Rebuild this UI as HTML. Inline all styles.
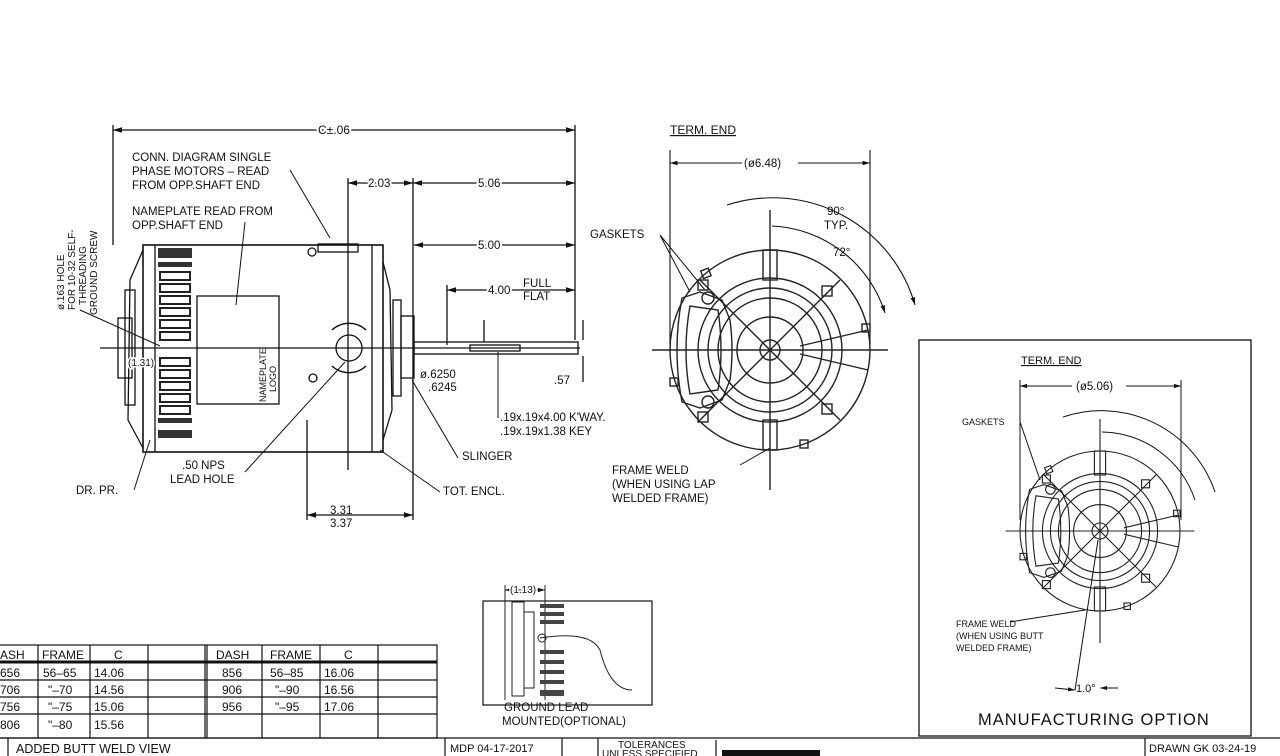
<!DOCTYPE html>
<html><head><meta charset="utf-8"><style>
html,body{margin:0;padding:0;background:#fff}
svg{display:block}
text{font-family:"Liberation Sans",sans-serif;fill:#111}
</style></head><body>
<svg width="1280" height="756" viewBox="0 0 1280 756" xmlns="http://www.w3.org/2000/svg">
<defs>
<marker id="a" viewBox="0 0 10 10" refX="10" refY="5" markerWidth="7" markerHeight="7" orient="auto-start-reverse"><path d="M0,2 L10,5 L0,8z" fill="#111"/></marker>
<g id="ev" fill="none" stroke="#222" stroke-width="1.4">
<circle r="100"/>
<circle r="72"/><circle r="62"/><circle r="52"/><circle r="33"/><circle r="10"/>
<line x1="-118" y1="0" x2="118" y2="0"/><line x1="0" y1="-140" x2="0" y2="140"/>
<line x1="-70" y1="-70" x2="70" y2="70"/><line x1="-70" y1="70" x2="70" y2="-70"/>
<line x1="30" y1="-4" x2="98" y2="-20"/><line x1="30" y1="4" x2="98" y2="20"/>
<rect x="-7" y="-100" width="14" height="30"/><rect x="-7" y="70" width="14" height="30"/>
<path d="M-88,-52 Q-98,0 -88,52 L-70,58 L-48,50 L-40,30 Q-36,0 -40,-30 L-48,-50 L-70,-58 Z"/>
<path d="M-80,-44 Q-88,0 -80,44 L-52,40 Q-46,0 -52,-40 Z"/>
<circle cx="-62" cy="-52" r="6"/><circle cx="-62" cy="52" r="6"/>
<rect x="-38" y="-98" width="8" height="8" transform="rotate(-20)"/>
<rect x="92" y="-26" width="8" height="8"/>
<rect x="-100" y="28" width="8" height="8"/>
<rect x="30" y="90" width="8" height="8"/>
<rect x="52" y="-64" width="10" height="10"/><rect x="52" y="54" width="10" height="10"/>
<rect x="-72" y="-70" width="10" height="10"/><rect x="-72" y="62" width="10" height="10"/>
</g>
</defs>
<g stroke="#111" stroke-width="1.3" fill="none">
<line x1="113" y1="125" x2="113" y2="245"/><line x1="575" y1="125" x2="575" y2="340"/>
<line x1="113" y1="130" x2="575" y2="130" marker-start="url(#a)" marker-end="url(#a)"/>
<line x1="348" y1="178" x2="348" y2="470"/><line x1="413" y1="178" x2="413" y2="520"/>
<line x1="348" y1="183" x2="413" y2="183" marker-start="url(#a)" marker-end="url(#a)"/>
<line x1="413" y1="183" x2="575" y2="183" marker-start="url(#a)" marker-end="url(#a)"/>
<line x1="414" y1="245" x2="575" y2="245" marker-start="url(#a)" marker-end="url(#a)"/>
<line x1="447" y1="285" x2="447" y2="345"/>
<line x1="447" y1="290" x2="575" y2="290" marker-start="url(#a)" marker-end="url(#a)"/>
<line x1="307" y1="420" x2="307" y2="520"/>
<line x1="307" y1="515" x2="413" y2="515" marker-start="url(#a)" marker-end="url(#a)"/>
<rect x="143" y="245" width="240" height="207" stroke-width="1.6"/>
<line x1="155" y1="245" x2="155" y2="452"/><line x1="372" y1="245" x2="372" y2="452"/>
<path d="M143,250 L130,280 L128,420 L143,448"/>
<rect x="118" y="318" width="14" height="60"/><rect x="125" y="290" width="10" height="115"/>
<path d="M383,262 L390,290 L392,410 L383,440"/>
<rect x="393" y="300" width="8" height="96"/><rect x="401" y="316" width="13" height="62"/>
<rect x="414" y="342" width="164" height="12"/>
<rect x="470" y="345" width="50" height="6"/>
<rect x="197" y="296" width="82" height="108"/>
<circle cx="349" cy="348" r="13"/>
<path d="M332,330 A25,25 0 0 1 366,330 M332,366 A25,25 0 0 0 366,366"/>
<line x1="100" y1="348" x2="580" y2="348"/>
<rect x="318" y="244" width="40" height="8"/>
<circle cx="312" cy="252" r="4"/><circle cx="313" cy="378" r="4"/>
<line x1="583" y1="320" x2="583" y2="340"/><line x1="583" y1="356" x2="583" y2="382"/>
<line x1="484" y1="320" x2="484" y2="342"/>
</g>
<g fill="#333">
<rect x="158" y="248" width="34" height="10"/><rect x="158" y="262" width="34" height="5"/>
<rect x="158" y="430" width="34" height="8"/><rect x="158" y="418" width="34" height="5"/>
</g>
<g stroke="#222" fill="none" stroke-width="2">
<rect x="160" y="272" width="30" height="8"/><rect x="160" y="284" width="30" height="8"/><rect x="160" y="296" width="30" height="8"/><rect x="160" y="308" width="30" height="8"/><rect x="160" y="320" width="30" height="8"/><rect x="160" y="332" width="30" height="8"/><rect x="160" y="358" width="30" height="8"/><rect x="160" y="370" width="30" height="8"/><rect x="160" y="382" width="30" height="8"/><rect x="160" y="394" width="30" height="8"/><rect x="160" y="406" width="30" height="8"/>
</g>
<g stroke="#111" stroke-width="1" fill="none">
<path d="M290,170 L330,238"/><path d="M245,222 L236,305"/><path d="M80,310 L160,346"/><path d="M134,490 L150,440"/>
<path d="M245,472 L345,362"/><path d="M380,450 L440,492"/><path d="M412,380 L458,458"/><path d="M498,418 L498,352"/>
<path d="M660,235 L690,292 M660,235 L705,290"/><path d="M740,465 L770,448"/>
</g>
<g font-size="11.5">
<text x="318" y="134" font-size="12" style="paint-order:stroke" stroke="#fff" stroke-width="4">C±.06</text>
<text x="132" y="161">CONN. DIAGRAM SINGLE</text><text x="132" y="175">PHASE MOTORS – READ</text><text x="132" y="189">FROM OPP.SHAFT END</text>
<text x="132" y="215">NAMEPLATE READ FROM</text><text x="132" y="229">OPP.SHAFT END</text>
<text x="368" y="187" style="paint-order:stroke" stroke="#fff" stroke-width="4">2.03</text>
<text x="478" y="187" style="paint-order:stroke" stroke="#fff" stroke-width="4">5.06</text>
<text x="478" y="249" style="paint-order:stroke" stroke="#fff" stroke-width="4">5.00</text>
<text x="488" y="294" style="paint-order:stroke" stroke="#fff" stroke-width="4">4.00</text>
<text x="523" y="287">FULL</text><text x="523" y="300">FLAT</text>
<text x="420" y="378">ø.6250</text><text x="428" y="391">.6245</text>
<text x="554" y="384">.57</text>
<text x="500" y="421">.19x.19x4.00 K'WAY.</text><text x="500" y="435">.19x.19x1.38 KEY</text>
<text x="462" y="460">SLINGER</text><text x="443" y="495">TOT. ENCL.</text>
<text x="182" y="469">.50 NPS</text><text x="170" y="483">LEAD HOLE</text>
<text x="76" y="494">DR. PR.</text>
<text x="330" y="514">3.31</text><text x="330" y="527">3.37</text>
<text x="128" y="366" font-size="10" style="paint-order:stroke" stroke="#fff" stroke-width="3">(1.31)</text>
<text transform="translate(266,402) rotate(-90)" font-size="9">NAMEPLATE</text>
<text transform="translate(276,392) rotate(-90)" font-size="9">LOGO</text>
<text transform="translate(64,310) rotate(-90)" font-size="10">ø.163 HOLE</text>
<text transform="translate(75,310) rotate(-90)" font-size="10">FOR 10-32 SELF-</text>
<text transform="translate(86,305) rotate(-90)" font-size="10">THREADING</text>
<text transform="translate(97,315) rotate(-90)" font-size="10">GROUND SCREW</text>
<text x="670" y="134" text-decoration="underline" font-size="12">TERM. END</text>
<text x="744" y="167">(ø6.48)</text>
<text x="590" y="238">GASKETS</text>
<text x="827" y="215">90°</text><text x="824" y="229">TYP.</text><text x="833" y="256">72°</text>
<text x="612" y="474">FRAME WELD</text><text x="612" y="488">(WHEN USING LAP</text><text x="612" y="502">WELDED FRAME)</text>
</g>
<g stroke="#111" stroke-width="1.1" fill="none">
<line x1="670" y1="150" x2="670" y2="345"/><line x1="870" y1="150" x2="870" y2="345"/>
<line x1="670" y1="163" x2="742" y2="163" marker-start="url(#a)"/><line x1="798" y1="163" x2="870" y2="163" marker-end="url(#a)"/>
<path d="M727,205 A148,148 0 0 1 915,305" marker-end="url(#a)"/>
<path d="M772,226 A124,124 0 0 1 885,313" marker-end="url(#a)"/>
</g>
<use href="#ev" transform="translate(770,350)"/>
<rect x="919" y="340" width="332" height="396" fill="none" stroke="#111" stroke-width="1.3"/>
<use href="#ev" transform="translate(1100,531) scale(0.8)"/>
<g stroke="#111" stroke-width="1" fill="none">
<line x1="1020" y1="380" x2="1020" y2="520"/><line x1="1181" y1="380" x2="1181" y2="520"/>
<line x1="1020" y1="386" x2="1072" y2="386" marker-start="url(#a)"/><line x1="1126" y1="386" x2="1181" y2="386" marker-end="url(#a)"/>
<path d="M1063,417 A120,120 0 0 1 1215,492"/><path d="M1102,432 A100,100 0 0 1 1195,500"/>
<path d="M1020,422 L1040,480"/><path d="M1010,622 L1085,610"/><path d="M1098,540 L1075,690"/>
<line x1="1055" y1="688" x2="1075" y2="690" marker-end="url(#a)"/><line x1="1118" y1="688" x2="1100" y2="688" marker-end="url(#a)"/>
</g>
<g font-size="9.5">
<text x="1021" y="364" text-decoration="underline" font-size="11">TERM. END</text>
<text x="1076" y="390" font-size="11.5">(ø5.06)</text>
<text x="962" y="425" font-size="9">GASKETS</text>
<text x="956" y="627" font-size="9">FRAME WELD</text><text x="956" y="639" font-size="9">(WHEN USING BUTT</text><text x="956" y="651" font-size="9">WELDED FRAME)</text>
<text x="1076" y="692" font-size="11">1.0°</text>
<text x="978" y="725" font-size="16.5" letter-spacing="1">MANUFACTURING OPTION</text>
</g>
<rect x="483" y="601" width="169" height="104" fill="none" stroke="#111" stroke-width="1.2"/>
<g stroke="#222" fill="none" stroke-width="1">
<line x1="505" y1="585" x2="505" y2="700"/><line x1="545" y1="585" x2="545" y2="700"/>
<line x1="505" y1="590" x2="545" y2="590" marker-start="url(#a)" marker-end="url(#a)"/>
<rect x="512" y="602" width="12" height="94"/><rect x="524" y="612" width="10" height="76"/>
<path d="M540,638 Q590,630 600,650 Q610,690 632,690"/>
<circle cx="542" cy="638" r="4"/>
</g>
<g fill="#444"><rect x="540" y="604" width="24" height="4"/><rect x="540" y="612" width="24" height="4"/><rect x="540" y="620" width="24" height="4"/><rect x="540" y="650" width="24" height="4"/><rect x="540" y="660" width="24" height="4"/><rect x="540" y="670" width="24" height="4"/><rect x="540" y="680" width="24" height="4"/><rect x="540" y="690" width="24" height="6"/></g>
<text x="510" y="593" font-size="10" style="paint-order:stroke" stroke="#fff" stroke-width="3">(1.13)</text>
<text x="504" y="711" font-size="11.5">GROUND LEAD</text><text x="502" y="725" font-size="11.5">MOUNTED(OPTIONAL)</text>
<g stroke="#111" stroke-width="1.2" fill="none">
<rect x="-2" y="645" width="439" height="93"/>
<line x1="0" y1="662" x2="437" y2="662" stroke-width="3"/>
<line x1="0" y1="680" x2="437" y2="680"/><line x1="0" y1="697" x2="437" y2="697"/><line x1="0" y1="714" x2="437" y2="714"/>
<line x1="38" y1="645" x2="38" y2="738"/><line x1="90" y1="645" x2="90" y2="738"/><line x1="148" y1="645" x2="148" y2="738"/><line x1="205" y1="645" x2="205" y2="738"/><line x1="207" y1="645" x2="207" y2="738"/><line x1="262" y1="645" x2="262" y2="738"/><line x1="320" y1="645" x2="320" y2="738"/><line x1="378" y1="645" x2="378" y2="738"/>
<line x1="0" y1="738" x2="1280" y2="738"/>
<line x1="8" y1="738" x2="8" y2="756"/><line x1="445" y1="738" x2="445" y2="756"/><line x1="562" y1="738" x2="562" y2="756"/><line x1="598" y1="738" x2="598" y2="756"/><line x1="716" y1="740" x2="716" y2="756"/><line x1="1145" y1="738" x2="1145" y2="756"/>
</g>
<g font-size="12">
<text x="0" y="659">ASH</text><text x="42" y="659">FRAME</text><text x="114" y="659">C</text>
<text x="216" y="659">DASH</text><text x="270" y="659">FRAME</text><text x="344" y="659">C</text>
<text x="0" y="677">656</text><text x="43" y="677">56–65</text><text x="94" y="677">14.06</text><text x="222" y="677">856</text><text x="270" y="677">56–85</text><text x="324" y="677">16.06</text>
<text x="0" y="694">706</text><text x="48" y="694">"–70</text><text x="94" y="694">14.56</text><text x="222" y="694">906</text><text x="275" y="694">"–90</text><text x="324" y="694">16.56</text>
<text x="0" y="711">756</text><text x="48" y="711">"–75</text><text x="94" y="711">15.06</text><text x="222" y="711">956</text><text x="275" y="711">"–95</text><text x="324" y="711">17.06</text>
<text x="0" y="729">806</text><text x="48" y="729">"–80</text><text x="94" y="729">15.56</text>
<text x="16" y="753" font-size="12.5">ADDED BUTT WELD VIEW</text>
<text x="450" y="752" font-size="11">MDP 04-17-2017</text>
<text x="618" y="748" font-size="10">TOLERANCES</text><text x="602" y="757" font-size="10">UNLESS SPECIFIED</text>
<text x="1149" y="752" font-size="11">DRAWN GK 03-24-19</text>
</g>
<rect x="722" y="750" width="98" height="6" fill="#111"/>
</svg>
</body></html>
